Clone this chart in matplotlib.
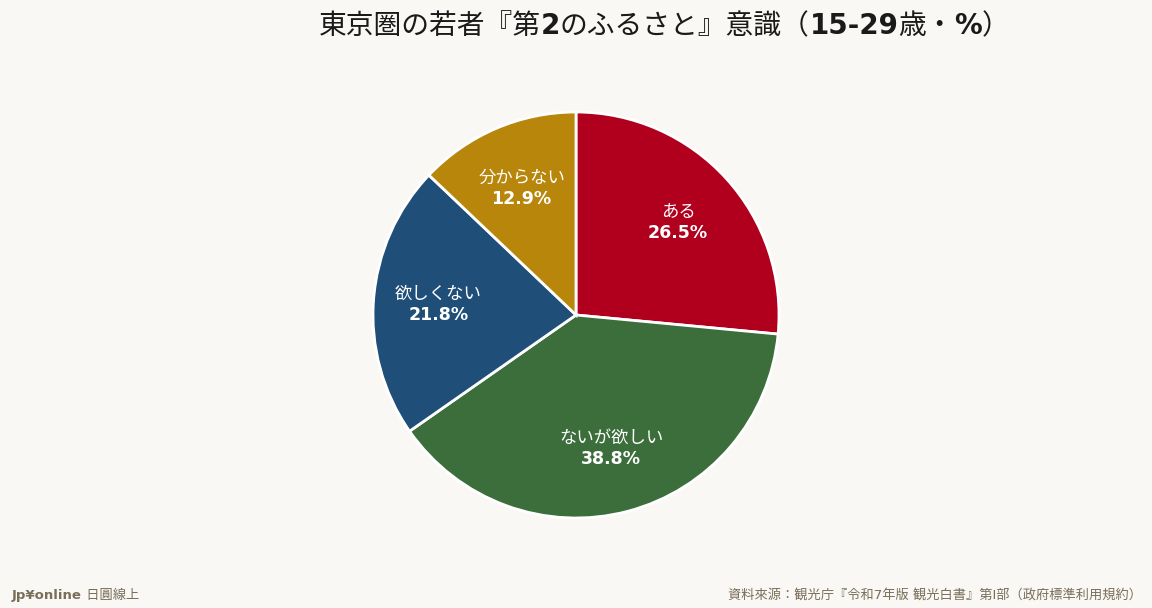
import matplotlib
matplotlib.use('Agg')
import matplotlib.pyplot as plt
import numpy as np

FONTS = ['DejaVu Sans', 'Noto Sans CJK JP']
plt.rcParams['font.family'] = FONTS

labels = ['ある', 'ないが欲しい', '欲しくない', '分からない']
values = [26.5, 38.8, 21.8, 12.9]
colors = ['#b0001e', '#3b6e3b', '#1f4e78', '#b8860b']

# title pieces: (text, weight) -- CJK shown regular, latin bold
title_parts = [('東京圏の若者『第', 'normal'), ('2', 'bold'),
               ('のふるさと』意識（', 'normal'), ('15-29', 'bold'),
               ('歳・', 'normal'), ('%', 'bold'), ('）', 'normal')]
source = '資料來源：観光庁『令和7年版 観光白書』第I部（政府標準利用規約）'
brand_parts = [('Jp¥online', 'bold'), (' 日圓線上', 'normal')]

bg = '#faf8f4'
fig = plt.figure(figsize=(11.52, 6.08), dpi=100, facecolor=bg)
renderer = fig.canvas.get_renderer()


def draw_parts(parts, x_px, y_px, align, size, color):
    """Draw text pieces side by side; x_px is center or left edge in pixels."""
    objs = []
    for txt, w in parts:
        objs.append(fig.text(0, 1 - y_px / 608, txt, ha='left', va='center',
                             fontsize=size, fontweight=w, color=color,
                             family=FONTS))
    widths = [o.get_window_extent(renderer).width for o in objs]
    total = sum(widths)
    x = x_px - total / 2 if align == 'center' else x_px
    for o, wd in zip(objs, widths):
        o.set_x(x / 1152)
        x += wd


# pie: center (576, 315), radius ~203px
r_px = 203
ax = fig.add_axes([(576 - r_px) / 1152, (608 - 315 - r_px) / 608,
                   2 * r_px / 1152, 2 * r_px / 608])
ax.set_facecolor(bg)

wedges, texts = ax.pie(values, colors=colors, startangle=90, counterclock=False,
                       radius=1.0,
                       wedgeprops=dict(edgecolor='white', linewidth=2))
ax.set_xlim(-1, 1)
ax.set_ylim(-1, 1)
ax.set_aspect('equal')

angle = 90.0
for lab, val in zip(labels, values):
    span = val * 3.6
    mid = np.deg2rad(angle - span / 2)
    angle -= span
    x, y = 0.68 * np.cos(mid), 0.68 * np.sin(mid)
    ax.text(x, y + 0.052, lab, ha='center', va='center', color='white',
            fontsize=12.5, family=FONTS)
    ax.text(x, y - 0.052, f'{val:.1f}%', ha='center', va='center',
            color='white', fontsize=12.5, fontweight='bold', family=FONTS)

draw_parts(title_parts, 664, 26, 'center', 20, '#1a1a1a')
draw_parts(brand_parts, 12, 595, 'left', 9.5, '#7a6e5a')
fig.text(1 - 10 / 1152, 1 - 595 / 608, source, ha='right', va='center',
         fontsize=9.5, color='#7a6e5a', family=FONTS)

fig.savefig('out.png', dpi=100, facecolor=bg)
